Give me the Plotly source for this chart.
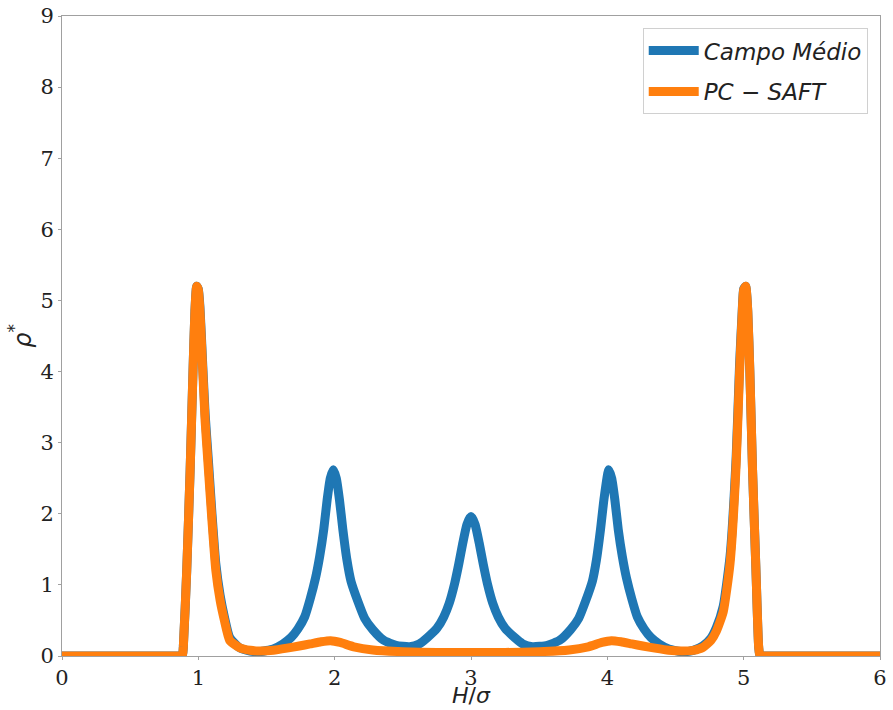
import plotly.graph_objects as go

# PC-SAFT profile
x_pcsaft = [0.0, 0.85, 0.882, 0.89, 0.915, 0.94, 0.961, 0.975, 0.988, 1.0, 1.012, 1.032, 1.05, 1.074,
            1.10, 1.128, 1.16, 1.19, 1.23, 1.30, 1.38, 1.45, 1.55, 1.65, 1.74, 1.82, 1.90, 1.97,
            2.04, 2.14, 2.28, 2.5, 2.75, 3.0, 3.25, 3.5, 3.72, 3.86, 3.96, 4.03, 4.10, 4.18,
            4.26, 4.35, 4.45, 4.55, 4.63, 4.70, 4.76, 4.80, 4.85, 4.90, 4.945, 4.97, 4.99, 5.0,
            5.015, 5.03, 5.045, 5.065, 5.09, 5.11, 5.12, 5.15, 6.0]
y_pcsaft = [0.0, 0.0, 0.0, 0.13, 1.21, 2.62, 4.02, 4.85, 5.2, 5.15, 4.85, 4.02, 3.3, 2.62,
            1.9, 1.21, 0.78, 0.51, 0.22, 0.12, 0.08, 0.07, 0.08, 0.11, 0.14, 0.17, 0.2, 0.215,
            0.19, 0.13, 0.085, 0.06, 0.05, 0.05, 0.05, 0.06, 0.085, 0.13, 0.19, 0.215, 0.2, 0.17,
            0.14, 0.11, 0.08, 0.07, 0.08, 0.12, 0.22, 0.35, 0.62, 1.3, 2.7, 4.0, 4.85, 5.15,
            5.2, 4.85, 4.02, 2.62, 1.21, 0.13, 0.0, 0.0, 0.0]

# Mean-field (Campo Médio) profile
x_campo = [0.0, 0.85, 0.882, 0.89, 0.915, 0.94, 0.961, 0.975, 0.988, 1.0, 1.012, 1.032, 1.05, 1.074,
           1.10, 1.128, 1.16, 1.19, 1.23, 1.30, 1.38, 1.45, 1.55, 1.62, 1.68, 1.73, 1.78, 1.82,
           1.86, 1.89, 1.92, 1.945, 1.968, 1.99, 2.012, 2.035, 2.06, 2.09, 2.12, 2.17, 2.22, 2.28,
           2.36, 2.45, 2.55, 2.62, 2.68, 2.75, 2.80, 2.84, 2.88, 2.91, 2.94, 2.97, 3.0, 3.03,
           3.06, 3.09, 3.12, 3.16, 3.20, 3.25, 3.32, 3.38, 3.45, 3.56, 3.65, 3.73, 3.79, 3.84,
           3.89, 3.92, 3.95, 3.975, 4.01, 4.032, 4.055, 4.08, 4.11, 4.14, 4.18, 4.22, 4.27, 4.32,
           4.38, 4.45, 4.55, 4.63, 4.70, 4.76, 4.80, 4.85, 4.90, 4.945, 4.97, 4.99, 5.0, 5.015,
           5.03, 5.045, 5.065, 5.09, 5.11, 5.12, 5.15, 6.0]
y_campo = [0.0, 0.0, 0.0, 0.13, 1.21, 2.62, 4.02, 4.85, 5.2, 5.16, 4.9, 4.1, 3.4, 2.74,
           2.0, 1.3, 0.85, 0.56, 0.26, 0.12, 0.07, 0.06, 0.1, 0.17, 0.26, 0.38, 0.55, 0.8,
           1.1, 1.4, 1.78, 2.2, 2.5, 2.62, 2.5, 2.2, 1.78, 1.35, 1.05, 0.77, 0.53, 0.37,
           0.22, 0.15, 0.13, 0.17, 0.26, 0.39, 0.55, 0.74, 1.02, 1.29, 1.59, 1.85, 1.96, 1.85,
           1.59, 1.29, 1.02, 0.74, 0.55, 0.39, 0.26, 0.17, 0.13, 0.15, 0.22, 0.37, 0.53, 0.77,
           1.05, 1.35, 1.78, 2.2, 2.62, 2.5, 2.2, 1.78, 1.4, 1.1, 0.8, 0.55, 0.38, 0.26,
           0.17, 0.1, 0.06, 0.08, 0.14, 0.25, 0.4, 0.7, 1.4, 2.8, 4.1, 4.88, 5.16, 5.2,
           4.85, 4.02, 2.62, 1.21, 0.13, 0.0, 0.0, 0.0]

x_ticks = [0, 1, 2, 3, 4, 5, 6]
y_ticks = [0, 1, 2, 3, 4, 5, 6, 7, 8, 9]

BLUE = "#1f77b4"
ORANGE = "#ff7f0e"

fig = go.Figure()
fig.add_trace(go.Scatter(x=x_campo, y=y_campo, mode="lines", name="<i>Campo Médio</i>",
                         legendgroup="a",
                         line=dict(color=BLUE, width=9, shape="spline", smoothing=0.5)))
fig.add_trace(go.Scatter(x=x_pcsaft, y=y_pcsaft, mode="lines", name="<i>PC − SAFT</i>",
                         legendgroup="b",
                         line=dict(color=ORANGE, width=9, shape="spline", smoothing=0.5)))

axis_common = dict(showgrid=False, zeroline=False, showline=True, linecolor="#a0a0a0",
                   linewidth=1, mirror=True, ticks="outside", ticklen=3, tickcolor="#a0a0a0",
                   automargin=False,
                   tickfont=dict(family="DejaVu Serif", size=21, color="#222"))

fig.update_layout(
    width=893, height=710,
    margin=dict(l=62, r=13, t=16, b=54),
    plot_bgcolor="white", paper_bgcolor="white",
    xaxis=dict(range=[0, 6], tickvals=x_ticks, **axis_common),
    yaxis=dict(range=[0, 9], tickvals=y_ticks, **axis_common,
               title=dict(text="<i>ρ</i><sup>*</sup>", standoff=2,
                          font=dict(family="DejaVu Sans", size=24, color="#222"))),
    legend=dict(x=0.985, y=0.981, xanchor="right", yanchor="top",
                bgcolor="white", bordercolor="#d0d0d0", borderwidth=1,
                font=dict(family="DejaVu Sans", size=23, color="#222"),
                itemwidth=50, tracegroupgap=8),
    showlegend=True,
    annotations=[dict(text="<i>H</i>/<i>σ</i>", xref="paper", yref="paper",
                      x=0.5, y=-0.061, xanchor="center", yanchor="middle",
                      showarrow=False,
                      font=dict(family="DejaVu Sans", size=22, color="#222"))],
)

fig.write_html("out.html")
